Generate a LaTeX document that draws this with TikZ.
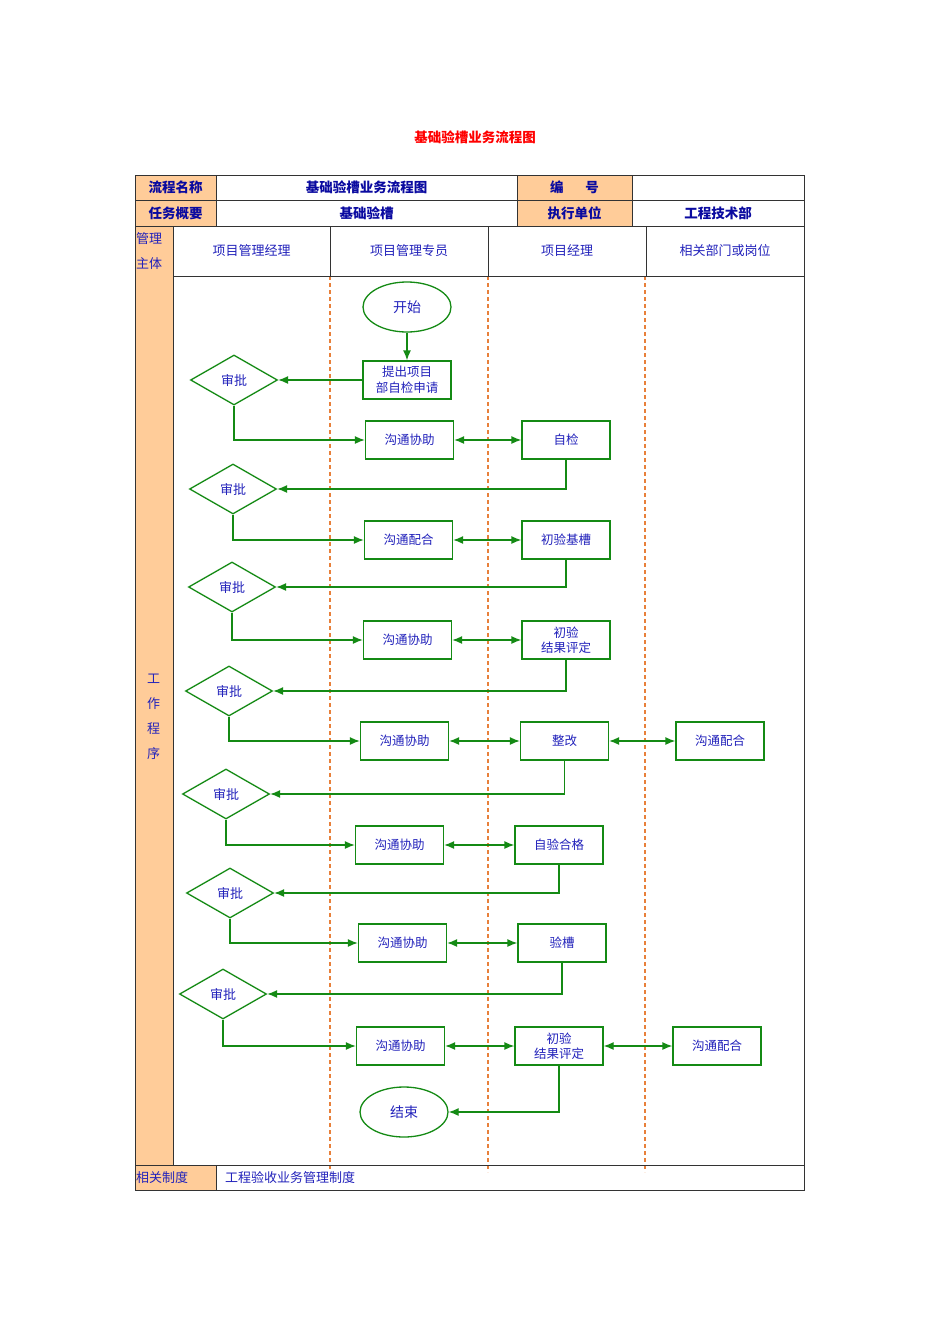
\documentclass[tikz,border=0pt]{standalone}
\usepackage{fontspec}
\setmainfont{Noto Sans CJK SC}
\usetikzlibrary{shapes.geometric,arrows.meta}
\definecolor{og}{HTML}{FFCC99}
\definecolor{gr}{HTML}{148A14}
\definecolor{bl}{HTML}{2222BB}
\definecolor{hb}{HTML}{0A0AA0}
\definecolor{dsh}{HTML}{E8803A}
\definecolor{tl}{HTML}{333333}
\begin{document}
\begin{tikzpicture}[x=1pt,y=-1pt,
  box/.style={draw=gr, line width=1.3pt, minimum width=88pt, minimum height=38pt, inner sep=1pt,
    font=\fontsize{12.5}{15.5}\selectfont, text=bl, align=center},
  oval/.style={draw=gr, line width=1.3pt, ellipse, minimum width=88pt, minimum height=50pt, inner sep=0pt,
    font=\fontsize{14}{16}\selectfont, text=bl},
  dia/.style={draw=gr, line width=1.3pt, diamond, minimum width=87pt, minimum height=50pt, inner sep=0pt,
    font=\fontsize{13}{15}\selectfont, text=bl},
  arr/.style={draw=gr, line width=1.3pt, -{Latex[length=10pt,width=8pt]}},
  arrr/.style={draw=gr, line width=1.3pt, {Latex[length=10pt,width=8pt]}-{Latex[length=10pt,width=8pt]}},
  hdr/.style={font=\bfseries\fontsize{13.5}{15}\selectfont, text=hb},
  col/.style={font=\fontsize{13}{15}\selectfont, text=bl},
  tline/.style={draw=tl, line width=0.9pt},
  lane/.style={draw=dsh, line width=1.2pt, dash pattern=on 4pt off 3pt}
]
\useasboundingbox (0,0) rectangle (950,1344);
\fill[white] (0,0) rectangle (950,1344);

% title
\node[font=\bfseries\fontsize{13.5}{15}\selectfont, text=red] (title) at (475,137) {基础验槽业务流程图};

% orange cells
\fill[og] (135,175) rectangle (216,226);
\fill[og] (517,175) rectangle (632,226);
\fill[og] (135,226) rectangle (173,1165);
\fill[og] (135,1165) rectangle (216,1190);

% lanes
\draw[lane] (330,276) -- (330,1172);
\draw[lane] (488,276) -- (488,1172);
\draw[lane] (645,276) -- (645,1172);

% table lines
\draw[tline] (135,175) rectangle (804,1190);
\draw[tline] (135,200) -- (804,200);
\draw[tline] (135,226) -- (804,226);
\draw[tline] (173,276) -- (804,276);
\draw[tline] (135,1165) -- (804,1165);
\draw[tline] (216,175) -- (216,226);
\draw[tline] (517,175) -- (517,226);
\draw[tline] (632,175) -- (632,226);
\draw[tline] (173,226) -- (173,1165);
\draw[tline] (330,226) -- (330,276);
\draw[tline] (488,226) -- (488,276);
\draw[tline] (646,226) -- (646,276);
\draw[tline] (216,1165) -- (216,1190);

% table texts
\node[hdr] (h1) at (175.5,187.5) {流程名称};
\node[hdr] (h2) at (366.5,187.5) {基础验槽业务流程图};
\node[hdr] (h3) at (574.5,187.5) {编\hspace{1.6em}号};
\node[hdr] (h4) at (175.5,213) {任务概要};
\node[hdr] (h5) at (366.5,213) {基础验槽};
\node[hdr] (h6) at (574.5,213) {执行单位};
\node[hdr] (h7) at (718,213) {工程技术部};
\node[col, anchor=west, align=left, inner sep=0pt, font=\fontsize{13}{25}\selectfont] (h8) at (136,251) {管理\\主体};
\node[col] (c1h) at (251.5,251) {项目管理经理};
\node[col] (c2h) at (409,251) {项目管理专员};
\node[col] (c3h) at (567,251) {项目经理};
\node[col] (c4h) at (725,251) {相关部门或岗位};
\node[col, align=center, font=\fontsize{13}{25}\selectfont] (wk) at (153.5,717) {工\\作\\程\\序};
\node[col, anchor=west, inner sep=0pt] (f1) at (136,1178) {相关制度};
\node[col, anchor=west, inner sep=0pt] (f2) at (225,1178) {工程验收业务管理制度};

% flow nodes
\node[oval] (start) at (407,307) {开始};
\node[box] (req) at (407,380) {提出项目\\部自检申请};
\node[dia] (d1) at (234,380) {审批};
\node[box] (c1) at (409.5,440) {沟通协助};
\node[box] (z1) at (566,440) {自检};
\node[dia] (d2) at (233,489) {审批};
\node[box] (c2) at (408.5,540) {沟通配合};
\node[box] (z2) at (566,540) {初验基槽};
\node[dia] (d3) at (232,587) {审批};
\node[box] (c3) at (407.5,640) {沟通协助};
\node[box] (z3) at (566,640) {初验\\结果评定};
\node[dia] (d4) at (229,691) {审批};
\node[box] (c4) at (404.5,741) {沟通协助};
\node[box] (z4) at (564.5,741) {整改};
\node[box] (r4) at (720,741) {沟通配合};
\node[dia] (d5) at (226,794) {审批};
\node[box] (c5) at (399.5,845) {沟通协助};
\node[box] (z5) at (559,845) {自验合格};
\node[dia] (d6) at (230,893) {审批};
\node[box] (c6) at (402.5,943) {沟通协助};
\node[box] (z6) at (562,943) {验槽};
\node[dia] (d7) at (223,994) {审批};
\node[box] (c7) at (400.5,1046) {沟通协助};
\node[box] (z7) at (559,1046) {初验\\结果评定};
\node[box] (r7) at (717,1046) {沟通配合};
\node[oval] (end) at (404,1112) {结束};

% connectors
\draw[arr] (start) -- (req);
\draw[arr] (req) -- (d1);
\draw[arr] (d1.south) |- (c1.west);
\draw[arrr] (c1) -- (z1);
\draw[arr] (z1.south) |- (d2.east);
\draw[arr] (d2.south) |- (c2.west);
\draw[arrr] (c2) -- (z2);
\draw[arr] (z2.south) |- (d3.east);
\draw[arr] (d3.south) |- (c3.west);
\draw[arrr] (c3) -- (z3);
\draw[arr] (z3.south) |- (d4.east);
\draw[arr] (d4.south) |- (c4.west);
\draw[arrr] (c4) -- (z4);
\draw[arrr] (z4) -- (r4);
\draw[arr] (z4.south) |- (d5.east);
\draw[arr] (d5.south) |- (c5.west);
\draw[arrr] (c5) -- (z5);
\draw[arr] (z5.south) |- (d6.east);
\draw[arr] (d6.south) |- (c6.west);
\draw[arrr] (c6) -- (z6);
\draw[arr] (z6.south) |- (d7.east);
\draw[arr] (d7.south) |- (c7.west);
\draw[arrr] (c7) -- (z7);
\draw[arrr] (z7) -- (r7);
\draw[arr] (z7.south) |- (end.east);
\end{tikzpicture}
\end{document}
